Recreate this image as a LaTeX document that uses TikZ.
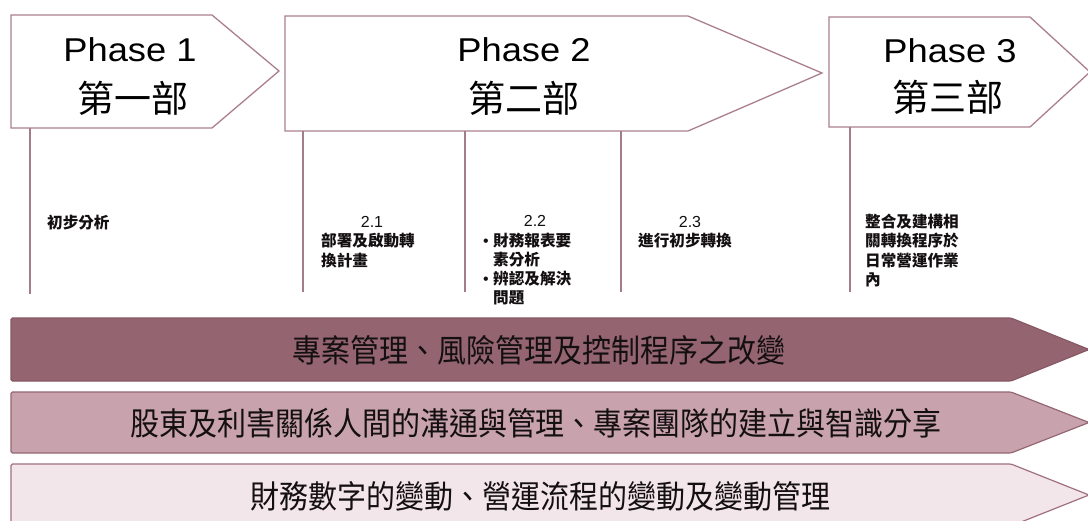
\documentclass[tikz,border=0pt]{standalone}
\usepackage{fontspec}
\setmainfont{Liberation Sans}
\newfontfamily\cjk{Noto Sans CJK TC}
\definecolor{phaseline}{RGB}{170,128,140}
\definecolor{vlinecol}{RGB}{165,125,137}
\definecolor{fillA}{RGB}{148,100,112}
\definecolor{fillB}{RGB}{200,162,173}
\definecolor{fillC}{RGB}{243,230,234}
\definecolor{edgeA}{RGB}{135,88,101}
\definecolor{edgeB}{RGB}{150,102,116}
\definecolor{edgeC}{RGB}{160,112,126}
\definecolor{txt}{RGB}{20,16,18}
\begin{document}
\begin{tikzpicture}[x=1pt,y=-1pt,
  phasebox/.style={draw=phaseline,line width=1.3pt,fill=white,line join=miter},
  vline/.style={draw=vlinecol,line width=1.2pt},
  bandA/.style={draw=edgeA,line width=1.2pt,fill=fillA,rounded corners=1.5pt},
  bandB/.style={draw=edgeB,line width=1.2pt,fill=fillB,rounded corners=1.5pt},
  bandC/.style={draw=edgeC,line width=1.2pt,fill=fillC,rounded corners=1.5pt},
  ptitle/.style={font=\fontsize{33}{36}\selectfont,inner sep=0,xscale=1.1,text=black},
  pcjk/.style={font=\cjk\fontsize{37}{40}\selectfont,inner sep=0,text=black},
  lbl/.style={font=\cjk\bfseries\fontsize{15.6}{18}\selectfont,inner sep=0,anchor=base west,text=txt},
  lblc/.style={font=\fontsize{16}{18}\selectfont,inner sep=0,anchor=base,text=txt},
  bandtext/.style={font=\cjk\fontsize{29}{32}\selectfont,inner sep=0,yscale=1.1,text=txt}]
\useasboundingbox (0,0) rectangle (1088,520);
\fill[white] (0,0) rectangle (1088,520);

% phase shapes
\draw[phasebox] (11,15) -- (212,15) -- (279,71) -- (212,128) -- (11,128) -- cycle;
\draw[phasebox] (285,16) -- (688,16) -- (822,73) -- (688,131) -- (285,131) -- cycle;
\draw[phasebox] (829,17) -- (1030,17) -- (1090,72) -- (1030,127) -- (829,127) -- cycle;

\node[ptitle] (p1t) at (130,50) {Phase 1};
\node[pcjk] (p1c) at (133,98) {第一部};
\node[ptitle] (p2t) at (524,50) {Phase 2};
\node[pcjk] (p2c) at (524,98) {第二部};
\node[ptitle] (p3t) at (950,51) {Phase 3};
\node[pcjk] (p3c) at (948,97) {第三部};

% vertical lines
\coordinate (a1) at (30,128);  \coordinate (b1) at (30,294);
\coordinate (a2) at (303,131); \coordinate (b2) at (303,292);
\coordinate (a3) at (465,131); \coordinate (b3) at (465,292);
\coordinate (a4) at (621,131); \coordinate (b4) at (621,292);
\coordinate (a5) at (850,127); \coordinate (b5) at (850,292);
\foreach \i in {1,...,5} {\draw[vline] (a\i) -- (b\i);}

% labels
\node[lbl] (l1) at (47,228) {初步分析};

\node[lblc] (l21) at (372,227) {2.1};
\node[lbl] (l21a) at (321,246.5) {部署及啟動轉};
\node[lbl] (l21b) at (321,266) {換計畫};

\node[lblc] (l22) at (535,226) {2.2};
\node[lblc] (l22d1) at (486,246.5) {•};
\node[lbl] (l22a) at (493,246.5) {財務報表要};
\node[lbl] (l22b) at (493,265.5) {素分析};
\node[lblc] (l22d2) at (486,284.5) {•};
\node[lbl] (l22c) at (493,284.5) {辨認及解決};
\node[lbl] (l22e) at (493,303) {問題};

\node[lblc] (l23) at (690,227) {2.3};
\node[lbl] (l23a) at (638,246.5) {進行初步轉換};

\node[lbl] (l3a) at (865,227) {整合及建構相};
\node[lbl] (l3b) at (865,246.5) {關轉換程序於};
\node[lbl] (l3c) at (865,266) {日常營運作業};
\node[lbl] (l3d) at (865,285) {內};

% bottom bands
\draw[bandA] (11,318) -- (1011,318) -- (1089,349.5) -- (1011,381) -- (11,381) -- cycle;
\draw[bandB] (11,392) -- (1011,392) -- (1089,422.5) -- (1011,453) -- (11,453) -- cycle;
\draw[bandC] (11,464) -- (1011,464) -- (1089,495) -- (1011,526) -- (11,526) -- cycle;

\node[bandtext] (t1) at (539,350) {專案管理、風險管理及控制程序之改變};
\node[bandtext] (t2) at (536,423) {股東及利害關係人間的溝通與管理、專案團隊的建立與智識分享};
\node[bandtext] (t3) at (540,496) {財務數字的變動、營運流程的變動及變動管理};
\end{tikzpicture}
\end{document}
